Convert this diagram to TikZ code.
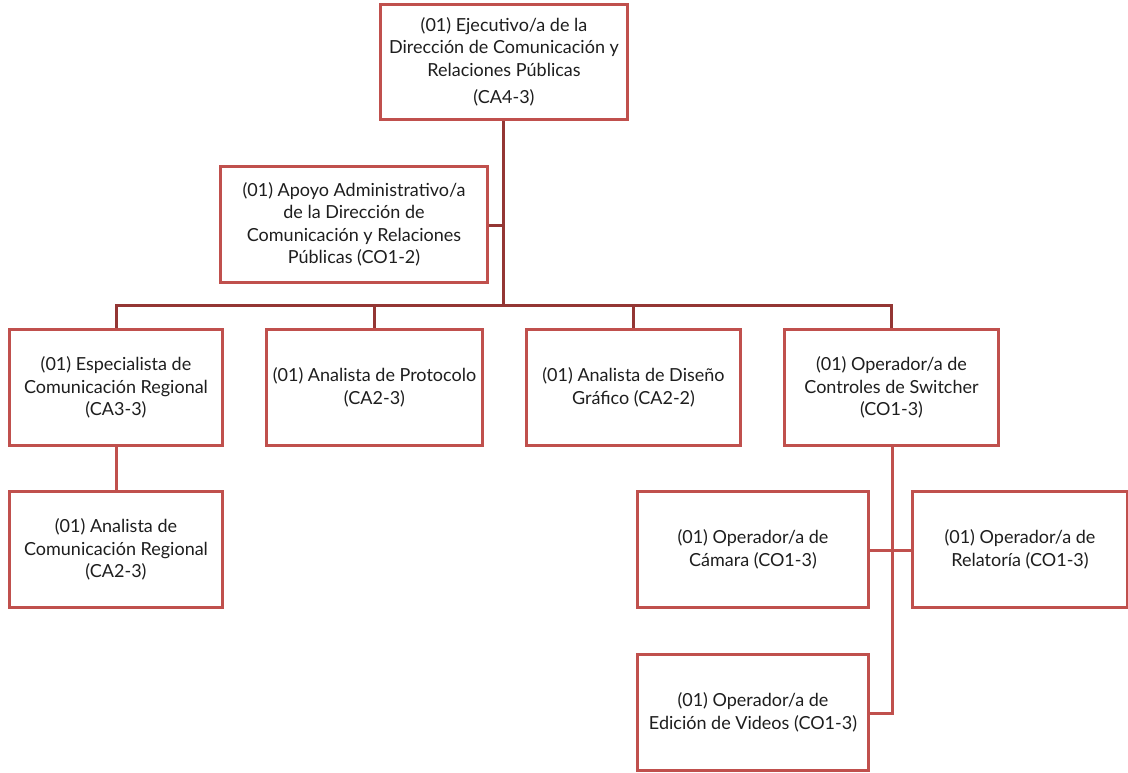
\documentclass[tikz,border=0pt]{standalone}
\usepackage{fontspec}
\setmainfont{Lato}
\definecolor{boxline}{HTML}{C0504D}
\definecolor{trunk}{HTML}{943634}
\definecolor{ink}{HTML}{1E1E1E}
\begin{document}
\begin{tikzpicture}[x=1pt,y=-1pt,
  post/.style={draw=boxline,line width=2.3pt,fill=white,align=center,
    text=ink,inner sep=1pt,font=\fontsize{18}{22.5}\selectfont,
    minimum height=115pt},
  mainlink/.style={draw=trunk,line width=3pt},
  sublink/.style={draw=boxline,line width=3pt}]
\useasboundingbox (0,0) rectangle (1128,773);

% head of the department
\node[post,minimum width=246pt,minimum height=114pt] (dir) at (504,62)
  {(01) Ejecutivo/a de la\\Dirección de Comunicación y\\Relaciones Públicas\\[5pt](CA4-3)};
\node[post,minimum width=266pt] (apoyo) at (354,224.5)
  {(01) Apoyo Administrativo/a\\de la Dirección de\\Comunicación y Relaciones\\Públicas (CO1-2)};

% second level
\node[post,minimum width=212pt] (esp) at (116,387.5)
  {(01) Especialista de\\Comunicación Regional\\(CA3-3)};
\node[post,minimum width=215pt] (prot) at (374.5,387.5)
  {(01) Analista de Protocolo\\(CA2-3)};
\node[post,minimum width=213pt] (dis) at (633.5,387.5)
  {(01) Analista de Diseño\\Gráfico (CA2-2)};
\node[post,minimum width=213pt] (sw) at (891.5,387.5)
  {(01) Operador/a de\\Controles de Switcher\\(CO1-3)};

% third level
\node[post,minimum width=212pt] (anareg) at (116,549.5)
  {(01) Analista de\\Comunicación Regional\\(CA2-3)};
\node[post,minimum width=230pt] (cam) at (753,549.5)
  {(01) Operador/a de\\Cámara (CO1-3)};
\node[post,minimum width=214pt] (rel) at (1020,549.5)
  {(01) Operador/a de\\Relatoría (CO1-3)};
\node[post,minimum width=230pt] (edi) at (753,712.5)
  {(01) Operador/a de\\Edición de Videos (CO1-3)};

% main trunk and bus
\coordinate (bus) at (503,305);
\coordinate (apj) at (503,225);
\draw[mainlink] (dir.south -| bus) -- (bus);
\draw[mainlink] (apoyo.east |- apj) -- (apj);
\draw[mainlink] (esp.north) |- (bus) -| (sw.north);
\draw[mainlink] (prot.north) -- (prot.north |- bus);
\draw[mainlink] (dis.north) -- (dis.north |- bus);

% lower branches
\coordinate (swj) at (892,550);
\coordinate (swe) at (892,713);
\draw[sublink] (esp.south) -- (anareg.north);
\draw[sublink] (sw.south -| swe) -- (swe) -- (edi.east |- swe);
\draw[sublink] (cam.east |- swj) -- (rel.west |- swj);

% redraw box frames over the connector ends
\foreach \n in {dir,apoyo,esp,prot,dis,sw,anareg,cam,rel,edi}
  \draw[boxline,line width=2.3pt] (\n.north west) rectangle (\n.south east);
\end{tikzpicture}
\end{document}
